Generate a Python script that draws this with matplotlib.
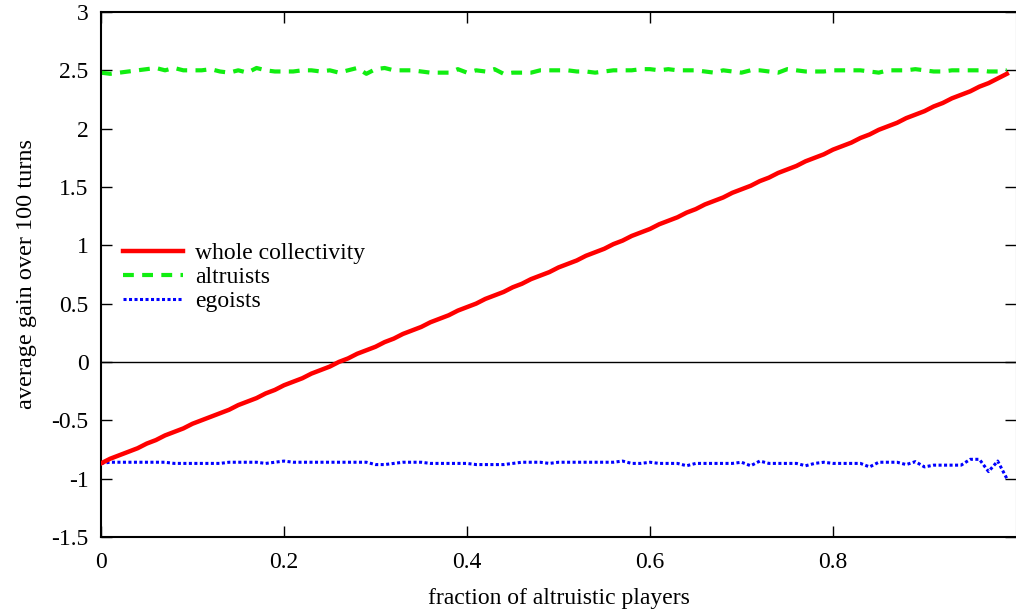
import matplotlib
matplotlib.use("Agg")
import matplotlib.pyplot as plt
from matplotlib.ticker import FormatStrFormatter

plt.rcParams['font.family'] = ['Liberation Serif', 'DejaVu Serif']

# fraction of altruistic players, 0.00 .. 0.99
fraction = [i / 100 for i in range(100)]

whole = [-0.87, -0.83, -0.80, -0.77, -0.74, -0.70, -0.67, -0.63, -0.60, -0.57,
         -0.53, -0.50, -0.47, -0.44, -0.41, -0.37, -0.34, -0.31, -0.27, -0.24,
         -0.20, -0.17, -0.14, -0.10, -0.07, -0.04, 0.00, 0.03, 0.07, 0.10,
         0.13, 0.17, 0.20, 0.24, 0.27, 0.30, 0.34, 0.37, 0.40, 0.44,
         0.47, 0.50, 0.54, 0.57, 0.60, 0.64, 0.67, 0.71, 0.74, 0.77,
         0.81, 0.84, 0.87, 0.91, 0.94, 0.97, 1.01, 1.04, 1.08, 1.11,
         1.14, 1.18, 1.21, 1.24, 1.28, 1.31, 1.35, 1.38, 1.41, 1.45,
         1.48, 1.51, 1.55, 1.58, 1.62, 1.65, 1.68, 1.72, 1.75, 1.78,
         1.82, 1.85, 1.88, 1.92, 1.95, 1.99, 2.02, 2.05, 2.09, 2.12,
         2.15, 2.19, 2.22, 2.26, 2.29, 2.32, 2.36, 2.39, 2.43, 2.47]

altruists = [2.48, 2.47, 2.48, 2.49, 2.50, 2.51, 2.52, 2.50, 2.52, 2.50,
             2.50, 2.50, 2.51, 2.49, 2.48, 2.50, 2.48, 2.52, 2.50, 2.49,
             2.49, 2.49, 2.50, 2.50, 2.49, 2.50, 2.48, 2.50, 2.52, 2.47,
             2.51, 2.52, 2.50, 2.50, 2.50, 2.49, 2.48, 2.48, 2.48, 2.51,
             2.48, 2.50, 2.49, 2.51, 2.47, 2.48, 2.48, 2.48, 2.50, 2.50,
             2.50, 2.50, 2.49, 2.49, 2.48, 2.49, 2.50, 2.50, 2.50, 2.51,
             2.51, 2.50, 2.51, 2.50, 2.50, 2.50, 2.49, 2.48, 2.50, 2.49,
             2.48, 2.50, 2.50, 2.49, 2.48, 2.51, 2.50, 2.49, 2.49, 2.49,
             2.50, 2.50, 2.50, 2.50, 2.49, 2.48, 2.50, 2.50, 2.50, 2.51,
             2.50, 2.49, 2.49, 2.50, 2.50, 2.50, 2.50, 2.49, 2.49, 2.50]

egoists = [-0.87, -0.86, -0.86, -0.86, -0.86, -0.86, -0.86, -0.86, -0.87, -0.87,
           -0.87, -0.87, -0.87, -0.87, -0.86, -0.86, -0.86, -0.86, -0.87, -0.86,
           -0.85, -0.86, -0.86, -0.86, -0.86, -0.86, -0.86, -0.86, -0.86, -0.86,
           -0.88, -0.88, -0.87, -0.86, -0.86, -0.86, -0.87, -0.87, -0.87, -0.87,
           -0.87, -0.88, -0.88, -0.88, -0.88, -0.87, -0.86, -0.86, -0.86, -0.87,
           -0.86, -0.86, -0.86, -0.86, -0.86, -0.86, -0.86, -0.85, -0.87, -0.87,
           -0.86, -0.87, -0.87, -0.87, -0.89, -0.87, -0.87, -0.87, -0.87, -0.87,
           -0.86, -0.89, -0.85, -0.87, -0.87, -0.87, -0.87, -0.89, -0.87, -0.86,
           -0.87, -0.87, -0.87, -0.87, -0.90, -0.86, -0.86, -0.86, -0.88, -0.855,
           -0.90, -0.885, -0.885, -0.885, -0.885, -0.835, -0.835, -0.94, -0.85, -1.0]

xticks = [0, 0.2, 0.4, 0.6, 0.8]
yticks = [-1.5, -1, -0.5, 0, 0.5, 1, 1.5, 2, 2.5, 3]

fig = plt.figure(figsize=(10.16, 6.15), dpi=100)
ax = fig.add_axes([0.0994, 0.127, 0.9006, 0.8535])

ax.axhline(0, color='black', lw=1, zorder=1)
ax.plot(fraction, whole, color='#ff0000', lw=3.2, label='whole collectivity', zorder=3)
ax.plot(fraction, altruists, color='#11ee11', lw=3, ls=(0, (2.6, 2)), label='altruists', zorder=2)
ax.plot(fraction, egoists, color='#0000ff', lw=2.2, ls=(0, (1, 0.8)), label='egoists', zorder=2)

ax.set_xlim(0, 1)
ax.set_ylim(-1.5, 3)
ax.set_xticks(xticks)
ax.set_yticks(yticks)
ax.xaxis.set_major_formatter(FormatStrFormatter('%g'))
ax.yaxis.set_major_formatter(FormatStrFormatter('%g'))
ax.tick_params(direction='in', length=8, width=1, labelsize=17,
               top=True, right=True)
ax.tick_params(axis='x', pad=11)
ax.tick_params(axis='y', pad=9)
for s in ['left', 'bottom', 'top']:
    ax.spines[s].set_linewidth(1.5)
ax.spines['right'].set_color('gray')

ax.set_xlabel('fraction of altruistic players', fontsize=17, labelpad=11)
ax.set_ylabel('average gain over 100 turns', fontsize=17.5, labelpad=10)

ax.legend(loc='upper left', bbox_to_anchor=(0.024, 0.56), frameon=False,
          fontsize=17, handlelength=2.55, handletextpad=0.5,
          labelspacing=0.1, borderaxespad=0, borderpad=0)

fig.savefig('out.png', dpi=100)
